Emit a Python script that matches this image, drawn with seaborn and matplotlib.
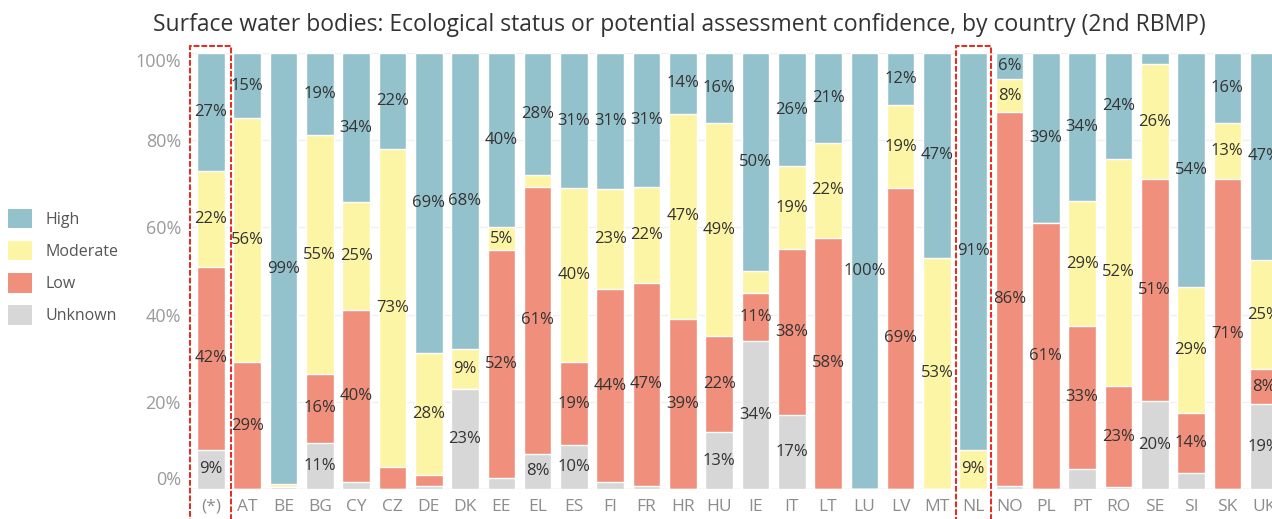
import pandas as pd
import matplotlib
matplotlib.use('Agg')
import matplotlib.pyplot as plt
import seaborn as sns
from matplotlib.patches import Patch, Rectangle

# Data: share of surface water bodies by assessment confidence (%)
countries = ['(*)', 'AT', 'BE', 'BG', 'CY', 'CZ', 'DE', 'DK', 'EE', 'EL', 'ES', 'FI', 'FR', 'HR', 'HU',
             'IE', 'IT', 'LT', 'LU', 'LV', 'MT', 'NL', 'NO', 'PL', 'PT', 'RO', 'SE', 'SI', 'SK', 'UK']
unknown = [9.0, 0, 0.4, 10.6, 1.5, 0, 0.7, 23.0, 2.5, 8.1, 10.0, 1.5, 0.7, 0, 13.0,
           34.0, 17.0, 0, 0, 0, 0, 0, 0.7, 0, 4.6, 0.4, 20.2, 3.7, 0, 19.4]
low = [42.0, 29.0, 0, 15.7, 39.6, 5.0, 2.6, 0, 52.2, 61.1, 19.0, 44.3, 46.6, 39.0, 22.0,
       11.0, 38.0, 57.6, 0, 69.0, 0, 0, 85.7, 61.0, 32.8, 23.2, 50.9, 13.8, 71.0, 8.0]
moderate = [22.0, 56.0, 0.7, 54.8, 24.6, 73.0, 27.8, 9.0, 5.4, 2.8, 40.0, 22.9, 21.9, 47.0, 49.0,
            5.0, 19.0, 21.8, 0, 19.0, 53.0, 9.0, 7.6, 0, 28.6, 52.1, 26.3, 28.9, 13.0, 25.2]
high = [27.0, 15.0, 98.9, 18.9, 34.3, 22.0, 68.9, 68.0, 39.9, 28.0, 31.0, 31.3, 30.8, 14.0, 16.0,
        50.0, 26.0, 20.6, 100.0, 12.0, 47.0, 91.0, 6.0, 39.0, 34.0, 24.3, 2.6, 53.6, 16.0, 47.4]
highlighted = ['(*)', 'NL']

title = 'Surface water bodies: Ecological status or potential assessment confidence, by country (2nd RBMP)'

df = pd.DataFrame({'country': countries, 'Unknown': unknown, 'Low': low,
                   'Moderate': moderate, 'High': high})
stack_order = ['Unknown', 'Low', 'Moderate', 'High']   # bottom -> top
legend_order = ['High', 'Moderate', 'Low', 'Unknown']
colors = {'High': '#94c2cc', 'Moderate': '#fdf5a6', 'Low': '#f0907c', 'Unknown': '#d7d7d7'}

sns.set_style('white')
plt.rcParams['font.family'] = ['Open Sans', 'DejaVu Sans']

fig = plt.figure(figsize=(12.72, 5.19), dpi=100)
ax = fig.add_axes([0.151, 0.058, 0.849, 0.840])

cum = df[stack_order].cumsum(axis=1)
# draw cumulative totals from the top level down so each bar covers the ones below
for level in reversed(stack_order):
    sns.barplot(x=df['country'], y=cum[level], order=countries, color=colors[level],
                saturation=1, width=0.76, errorbar=None, ax=ax, zorder=2)

# segment labels
for i, c in enumerate(countries):
    for level in stack_order:
        v = df.loc[i, level]
        if v >= 5.3:
            mid = cum.loc[i, level] - v / 2
            ax.text(i, mid, f'{int(v + 0.5)}%', ha='center', va='center',
                    fontsize=12, color='#333333', zorder=3)

ax.set_xlim(-0.52, 29.23)
ax.set_ylim(0, 100)
ax.set_yticks([0, 20, 40, 60, 80, 100])
ax.set_yticklabels([f'{t}%' for t in [0, 20, 40, 60, 80, 100]])
yl = ax.get_yticklabels()
yl[0].set_va('bottom')
yl[-1].set_va('top')
ax.tick_params(axis='y', length=0, labelsize=13, labelcolor='#9a9a9a', pad=8)
ax.tick_params(axis='x', length=0, labelsize=12.5, labelcolor='#8c8c8c', pad=7)
ax.set_xlabel('')
ax.set_ylabel('')
ax.grid(axis='y', color='#f0f0f0', linewidth=1, zorder=0)
ax.set_axisbelow(True)
for s in ax.spines.values():
    s.set_visible(False)
ax.axhline(0, color='#e6e6e6', linewidth=1, zorder=1)

# red dashed boxes around highlighted columns
half = {'(*)': 0.565, 'NL': 0.48}
for c in highlighted:
    i = countries.index(c)
    ax.add_patch(Rectangle((i - half[c], -9), 2 * half[c], 110.5, fill=False,
                           edgecolor='#e8281e', linewidth=1.4, linestyle=(0, (3, 1)),
                           clip_on=False, zorder=4))

handles = [Patch(facecolor=colors[l], edgecolor='none') for l in legend_order]
fig.legend(handles, legend_order, loc='center left', bbox_to_anchor=(0.006, 0.486),
           frameon=False, fontsize=11.5, handlelength=1.5, handleheight=1.5,
           handletextpad=0.85, labelspacing=0.8, borderpad=0, borderaxespad=0,
           labelcolor='#555555')

fig.text(0.534, 0.952, title, ha='center', va='center', fontsize=16.5, color='#333333')

fig.savefig('out.png', dpi=100)
